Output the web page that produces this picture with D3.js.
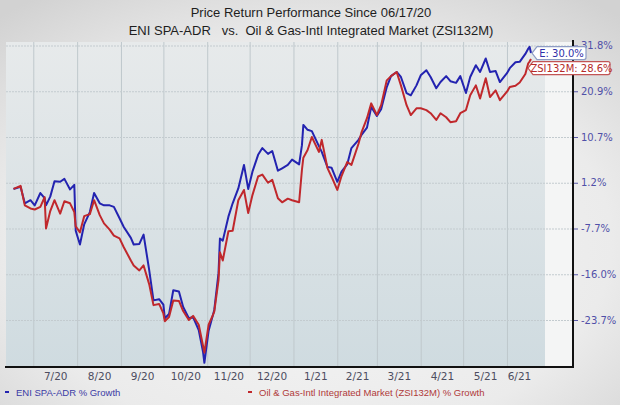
<!DOCTYPE html>
<html>
<head>
<meta charset="utf-8">
<script src="https://cdn.jsdelivr.net/npm/d3@7"></script>
<style>
  body { margin: 0; background: #ececec; }
  svg { display: block; }
</style>
</head>
<body>
<script>
// values (% growth since 06/17/20)
const dates = [
  "06/17/20","06/22/20","06/25/20","06/29/20","07/02/20","07/06/20","07/09/20","07/10/20","07/13/20","07/16/20",
  "07/20/20","07/23/20","07/27/20","07/30/20","07/31/20","08/03/20","08/06/20","08/10/20","08/13/20","08/17/20",
  "08/20/20","08/24/20","08/27/20","08/31/20","09/03/20","09/08/20","09/10/20","09/14/20","09/17/20","09/21/20",
  "09/24/20","09/28/20","10/01/20","10/02/20","10/05/20","10/08/20","10/12/20","10/15/20","10/19/20","10/22/20",
  "10/26/20","10/29/20","10/30/20","11/02/20","11/05/20","11/06/20","11/09/20","11/10/20","11/12/20","11/16/20",
  "11/19/20","11/23/20","11/27/20","11/30/20","12/03/20","12/07/20","12/10/20","12/14/20","12/17/20","12/21/20",
  "12/24/20","12/28/20","12/31/20","01/05/21","01/07/21","01/08/21","01/11/21","01/14/21","01/19/21","01/21/21",
  "01/25/21","01/28/21","02/01/21","02/04/21","02/08/21","02/11/21","02/16/21","02/18/21","02/22/21","02/25/21",
  "03/01/21","03/04/21","03/08/21","03/11/21","03/15/21","03/18/21","03/22/21","03/25/21","03/29/21","04/01/21",
  "04/05/21","04/08/21","04/12/21","04/15/21","04/19/21","04/22/21","04/26/21","04/29/21","05/03/21","05/06/21",
  "05/10/21","05/13/21","05/17/21","05/20/21","05/24/21","05/27/21","06/01/21","06/03/21","06/07/21","06/10/21",
  "06/14/21","06/16/21","06/17/21","06/18/21"
];

const eniGrowth = [
  0.0, 0.4, -2.8, -2.2, -3.2, -0.8, -1.8, -3.2, -1.5, 1.5,
  1.4, 2.0, -0.1, 0.8, -8.1, -10.6, -6.9, -4.5, -0.8, -2.8,
  -3.2, -3.2, -3.5, -5.7, -7.4, -9.4, -10.6, -10.5, -8.8, -15.3,
  -20.4, -20.2, -21.1, -23.4, -22.7, -18.7, -18.9, -21.5, -23.4, -23.2,
  -25.4, -29.0, -30.9, -25.5, -22.9, -22.0, -15.8, -9.5, -9.9, -5.4,
  -2.8, 0.1, 4.9, 0.0, 3.5, 7.0, 8.4, 7.2, 7.8, 3.7,
  4.2, 4.9, 6.0, 5.0, 9.0, 13.4, 12.3, 12.0, 8.8, 7.6,
  4.5, 4.3, 1.4, 3.5, 5.0, 8.4, 10.1, 11.1, 12.8, 17.4,
  15.4, 16.9, 21.9, 24.5, 25.5, 24.3, 20.5, 20.0, 22.3, 24.7,
  25.9, 24.3, 21.6, 23.1, 24.5, 23.3, 22.9, 24.5, 20.5, 24.3,
  27.1, 25.5, 28.7, 25.5, 25.7, 23.1, 25.2, 26.4, 27.8, 27.9,
  29.8, 31.0, 31.5, 30.0
];

const zsiGrowth = [
  0.0, 0.6, -3.2, -3.8, -4.0, -3.5, -1.6, -7.7, -4.3, -2.2,
  -4.8, -2.4, -2.8, -4.5, -7.3, -8.4, -5.3, -4.9, -2.2, -5.1,
  -6.7, -7.9, -9.0, -9.5, -11.1, -13.5, -14.4, -15.3, -14.4, -17.7,
  -21.2, -21.0, -22.6, -23.9, -23.2, -20.4, -20.5, -22.2, -23.7, -23.0,
  -24.5, -28.0, -29.2, -24.5, -22.9, -22.3, -17.0, -12.0, -13.5, -8.2,
  -8.1, -2.2, -0.2, -4.7, -1.2, 2.5, 2.9, 1.2, 1.8, -1.8,
  -2.6, -1.9, -2.2, -2.6, 3.9, 6.4, 8.0, 10.7, 7.6, 10.1,
  4.3, 2.4, -0.2, 2.6, 5.5, 4.9, 9.3, 11.6, 14.9, 18.2,
  15.6, 17.8, 23.5, 24.5, 25.5, 22.3, 17.8, 15.6, 17.1, 17.1,
  16.7, 16.0, 14.5, 16.0, 15.1, 14.0, 14.2, 16.0, 16.7, 20.0,
  22.3, 19.3, 24.0, 19.6, 21.1, 18.9, 20.8, 21.9, 22.2, 23.0,
  25.0, 27.5, 28.0, 28.6
];

const yTickValues = [31.8, 20.9, 10.7, 1.2, -7.7, -16.0, -23.7];

const seriesNames = ["ENI SPA-ADR % Growth", "Oil & Gas-Intl Integrated Market (ZSI132M) % Growth"];
const calloutLabels = ["E", "ZSI132M"];

const width = 620, height = 405;
const plot = { left: 6, right: 573, top: 42, bottom: 367, dataRight: 531, tickTop: 45.5, tickStep: 45.75 };
const blue = "#2323b0", red = "#c0282c";

const parse = d3.timeParse("%m/%d/%y");
const days = dates.map(parse);

const svg = d3.select("body").append("svg")
  .attr("width", width)
  .attr("height", height);

const defs = svg.append("defs");

const pageGrad = defs.append("radialGradient").attr("id", "pageBg")
  .attr("cx", "50%").attr("cy", "60%").attr("r", "75%");
pageGrad.append("stop").attr("offset", "0%").attr("stop-color", "#f7f7f7");
pageGrad.append("stop").attr("offset", "65%").attr("stop-color", "#ebebeb");
pageGrad.append("stop").attr("offset", "100%").attr("stop-color", "#d2d2d2");

const plotGrad = defs.append("linearGradient").attr("id", "plotBg")
  .attr("x1", 0).attr("y1", 0).attr("x2", 0).attr("y2", 1);
plotGrad.append("stop").attr("offset", "0%").attr("stop-color", "#e7eaeb");
plotGrad.append("stop").attr("offset", "100%").attr("stop-color", "#cfdbe0");

svg.append("rect").attr("width", width).attr("height", height).attr("fill", "url(#pageBg)");

// scales
const x = d3.scaleTime()
  .domain([days[0], days[days.length - 1]])
  .range([13.5, plot.dataRight]);

const y = d3.scaleLinear()
  .domain(yTickValues)
  .range(yTickValues.map((d, i) => plot.tickTop + i * plot.tickStep));

// plot background
svg.append("rect")
  .attr("x", plot.left).attr("y", plot.top)
  .attr("width", plot.dataRight + 14 - plot.left).attr("height", plot.bottom - plot.top)
  .attr("fill", "url(#plotBg)");
svg.append("rect")
  .attr("x", plot.dataRight + 14).attr("y", plot.top)
  .attr("width", plot.right - plot.dataRight - 14).attr("height", plot.bottom - plot.top)
  .attr("fill", "#f4f5f5");

// month gridlines
const monthStarts = d3.timeMonth.range(d3.timeMonth.ceil(x.domain()[0]), x.domain()[1]);
svg.append("g")
  .attr("transform", `translate(0,${plot.bottom})`)
  .call(d3.axisBottom(x).tickValues(monthStarts).tickFormat("").tickSize(-(plot.bottom - plot.top)))
  .call(g => g.select(".domain").remove())
  .call(g => g.selectAll("line").attr("stroke", "#bfc8cc").attr("stroke-width", 1));

// horizontal gridlines
svg.append("g")
  .attr("transform", `translate(${plot.left},0)`)
  .call(d3.axisRight(y).tickValues(yTickValues).tickFormat("").tickSize(plot.right - plot.left))
  .call(g => g.select(".domain").remove())
  .call(g => g.selectAll("line").attr("stroke", "#c3cbcf").attr("stroke-dasharray", "2,1"));

// lines
const line = values => d3.line()
  .x((d, i) => x(days[i]))
  .y(d => y(d))(values);

svg.append("path").attr("d", line(eniGrowth))
  .attr("fill", "none").attr("stroke", blue).attr("stroke-width", 2).attr("stroke-linejoin", "round");
svg.append("path").attr("d", line(zsiGrowth))
  .attr("fill", "none").attr("stroke", red).attr("stroke-width", 2).attr("stroke-linejoin", "round");

// axes: month labels sit in the middle of the visible part of each month
const labelDates = monthStarts.map(m => {
  const end = d3.min([d3.timeMonth.offset(m, 1), x.domain()[1]]);
  return new Date((m.getTime() + end.getTime()) / 2);
});

svg.append("g")
  .attr("transform", `translate(0,${plot.bottom})`)
  .call(d3.axisBottom(x).tickValues(labelDates).tickFormat(d3.timeFormat("%-m/%y")).tickSize(0).tickPadding(6))
  .call(g => g.select(".domain").remove())
  .call(g => g.selectAll("text")
    .attr("fill", "#4d4d5f")
    .style("font-family", "'DejaVu Sans', Verdana, sans-serif")
    .style("font-size", "10.5px"));

svg.append("line")
  .attr("x1", plot.left - 1).attr("x2", plot.right + 1)
  .attr("y1", plot.bottom).attr("y2", plot.bottom)
  .attr("stroke", "#111").attr("stroke-width", 2);

svg.append("g")
  .attr("transform", `translate(${plot.right},0)`)
  .call(d3.axisRight(y).tickValues(yTickValues).tickFormat(d => d.toFixed(1) + "%").tickSize(5).tickPadding(3))
  .call(g => g.select(".domain").remove())
  .call(g => g.selectAll("line").attr("stroke", "#5a5aa8"))
  .call(g => g.selectAll("text")
    .attr("fill", "#5050a8")
    .style("font-family", "'DejaVu Sans', Verdana, sans-serif")
    .style("font-size", "10px"));

svg.append("line")
  .attr("x1", plot.right).attr("x2", plot.right)
  .attr("y1", plot.top - 2).attr("y2", plot.bottom + 1)
  .attr("stroke", "#111").attr("stroke-width", 2);

// end-value callouts
const last = dates.length - 1;
const callouts = [
  { text: `${calloutLabels[0]}: ${eniGrowth[last].toFixed(1)}%`, value: eniGrowth[last], stroke: "#8d9cc4", color: "#3030a8", w: 52 },
  { text: `${calloutLabels[1]}: ${zsiGrowth[last].toFixed(1)}%`, value: zsiGrowth[last], stroke: "#c25555", color: "#b52a2a", w: 80 }
];
const boxH = 13;
let prevBottom = -Infinity;
callouts.forEach((c, i) => {
  let cy = y(c.value);
  if (cy - boxH / 2 < prevBottom + 2) cy = prevBottom + 2 + boxH / 2;
  prevBottom = cy + boxH / 2;
  const x0 = plot.dataRight - (i === 0 ? -1 : 3);
  const g = svg.append("g");
  g.append("path")
    .attr("d", `M${x0},${cy} L${x0 + 5},${cy - boxH / 2} L${x0 + c.w},${cy - boxH / 2} Q${x0 + c.w + 2},${cy - boxH / 2} ${x0 + c.w + 2},${cy - boxH / 2 + 2} L${x0 + c.w + 2},${cy + boxH / 2 - 2} Q${x0 + c.w + 2},${cy + boxH / 2} ${x0 + c.w},${cy + boxH / 2} L${x0 + 5},${cy + boxH / 2} Z`)
    .attr("fill", "#ffffff").attr("stroke", c.stroke).attr("stroke-width", 1.2);
  g.append("text")
    .attr("x", x0 + 5 + (c.w - 3) / 2).attr("y", cy + 3.5)
    .attr("text-anchor", "middle")
    .attr("fill", c.color)
    .style("font-family", "'DejaVu Sans', Verdana, sans-serif")
    .style("font-size", "10px")
    .text(c.text);
});

// titles
const title = svg.append("g")
  .style("font-family", "'Liberation Sans', Arial, sans-serif")
  .style("font-size", "13px")
  .attr("fill", "#1e1e1e")
  .attr("text-anchor", "middle");
title.append("text").attr("x", 311).attr("y", 17).text("Price Return Performance Since 06/17/20");
title.append("text").attr("x", 311).attr("y", 35).attr("xml:space", "preserve")
  .text("ENI SPA-ADR   vs.  Oil & Gas-Intl Integrated Market (ZSI132M)");

// legend
const legend = [
  { name: seriesNames[0], color: blue, textColor: "#3b3ba5", x: 5 },
  { name: seriesNames[1], color: red, textColor: "#b03a3a", x: 248 }
];
legend.forEach(l => {
  svg.append("rect").attr("x", l.x).attr("y", 391).attr("width", 4).attr("height", 2).attr("fill", l.color);
  svg.append("text")
    .attr("x", l.x + 11).attr("y", 396)
    .attr("fill", l.textColor)
    .style("font-family", "'Liberation Sans', Arial, sans-serif")
    .style("font-size", "9.5px")
    .text(l.name);
});
</script>
</body>
</html>
